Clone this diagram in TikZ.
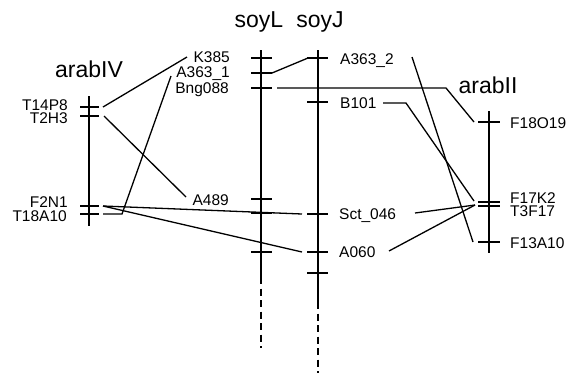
\documentclass[tikz,border=0pt]{standalone}
\usepackage{fontspec}
\setmainfont{Liberation Sans}
\tikzstyle{chrom} = [line width=1.4pt]
\tikzstyle{loc} = [line width=1.3pt]
\tikzstyle{link} = [line width=1.3pt]
\tikzstyle{gap} = [line width=1.4pt, dash pattern=on 7pt off 4.5pt]
\tikzstyle{lbl} = [inner sep=0pt, font=\fontsize{15.5}{15.5}\selectfont]
\tikzstyle{ttl} = [inner sep=0pt, font=\fontsize{23}{23}\selectfont]

\begin{document}
\begin{tikzpicture}[x=1pt, y=-1pt]
\useasboundingbox (0,0) rectangle (568,373);
%titels
\node[ttl, anchor=base] (tIV) at (89,77) {arabIV};
\node[ttl, anchor=base] (tL) at (259,27) {soyL};
\node[ttl, anchor=base] (tJ) at (320,27) {soyJ};
\node[ttl, anchor=base] (tII) at (488,93) {arabII};
%begin arabIV
\coordinate (IVtop) at (89,96);
\coordinate (IVbot) at (89,226);
\draw[chrom] (IVtop) -- (IVbot);
\foreach \y in {107,116,206,214}
    \draw[loc] (80,\y) -- (99,\y);
\node[lbl, anchor=base east] (T14P8) at (68,110.5) {T14P8};
\node[lbl, anchor=base east] (T2H3) at (68,123.5) {T2H3};
\node[lbl, anchor=base east] (F2N1) at (68,207) {F2N1};
\node[lbl, anchor=base east] (T18A10) at (67,221.5) {T18A10};
\coordinate (T14P8r) at (103,107);
\coordinate (T2H3r) at (104,116);
\coordinate (F2N1r) at (103,206);
\coordinate (T18A10r) at (103,214);
\coordinate (T18A10k) at (122,214);
%end arabIV
%begin soyL
\coordinate (Ltop) at (261,50);
\coordinate (Lmid) at (261,277);
\coordinate (Lbot) at (261,348);
\draw[chrom] (Ltop) -- (Lmid);
\draw[gap] (Lmid) -- (Lbot);
\foreach \y in {58,73,88,199,213,252}
    \draw[loc] (251,\y) -- (272,\y);
\node[lbl, anchor=base east] (K385) at (230,62) {K385};
\node[lbl, anchor=base east] (A3631) at (230,77) {A363\_1};
\node[lbl, anchor=base east] (Bng088) at (229,93) {Bng088};
\node[lbl, anchor=base east] (A489) at (229,205.5) {A489};
\coordinate (K385l) at (187,57);
\coordinate (A3631l) at (171,76);
\coordinate (A489l) at (186,197);
\coordinate (A3631r) at (272,73);
\coordinate (Bngr) at (277,88);
%end soyL
%begin soyJ
\coordinate (Jtop) at (318,50);
\coordinate (Jmid) at (318,302);
\coordinate (Jbot) at (318,373);
\draw[chrom] (Jtop) -- (Jmid);
\draw[gap] (Jmid) -- (Jbot);
\foreach \y in {58,102,214,252,273}
    \draw[loc] (307,\y) -- (328,\y);
\node[lbl, anchor=base west] (A3632) at (340,64) {A363\_2};
\node[lbl, anchor=base west] (B101) at (340,108.5) {B101};
\node[lbl, anchor=base west] (Sct046) at (339,219) {Sct\_046};
\node[lbl, anchor=base west] (A060) at (339,257) {A060};
\coordinate (A3632l) at (308,58);
\coordinate (A3632r) at (412,57);
\coordinate (B101r) at (383,103);
\coordinate (B101k) at (406,103);
\coordinate (Sctl) at (302,214);
\coordinate (Sctr) at (415,213);
\coordinate (A060l) at (302,252);
\coordinate (A060r) at (389,251);
\coordinate (Bngk) at (446,88);
%end soyJ
%begin arabII
\coordinate (IItop) at (489,111);
\coordinate (IIbot) at (489,253);
\draw[chrom] (IItop) -- (IIbot);
\foreach \y in {122,202,206,242}
    \draw[loc] (478,\y) -- (500,\y);
\node[lbl, anchor=base west] (F18O19) at (510,128) {F18O19};
\node[lbl, anchor=base west] (F17K2) at (510,203) {F17K2};
\node[lbl, anchor=base west] (T3F17) at (510,216) {T3F17};
\node[lbl, anchor=base west] (F13A10) at (510,248) {F13A10};
\coordinate (F18O19l) at (474,122);
\coordinate (F17K2l) at (474,201);
\coordinate (T3F17l) at (475,205);
\coordinate (F13A10l) at (473,242);
%end arabII
%begin links
\draw[link] (T14P8r) -- (K385l);
\draw[link] (T2H3r) -- (A489l);
\draw[link] (T18A10r) -- (T18A10k) -- (A3631l);
\draw[link] (F2N1r) -- (Sctl);
\draw[link] (F2N1r) -- (A060l);
\draw[link] (A3631r) -- (A3632l);
\draw[link] (Bngr) -- (Bngk) -- (F18O19l);
\draw[link] (B101r) -- (B101k) -- (F17K2l);
\draw[link] (A3632r) -- (F13A10l);
\draw[link] (Sctr) -- (T3F17l);
\draw[link] (A060r) -- (T3F17l);
%end links
\end{tikzpicture}
\end{document}
